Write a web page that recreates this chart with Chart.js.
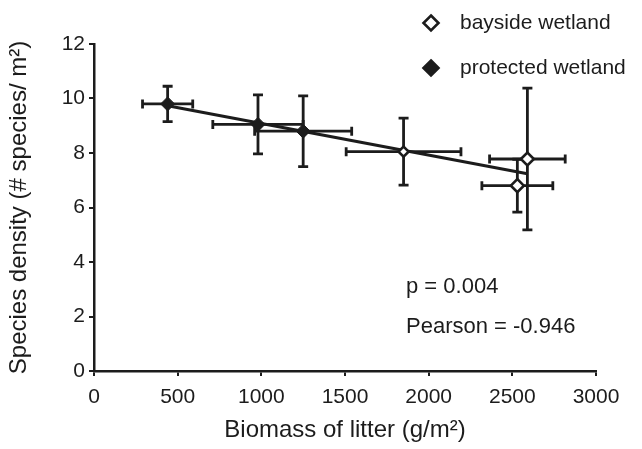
<!DOCTYPE html>
<html>
<head>
<meta charset="utf-8">
<script src="https://cdn.jsdelivr.net/npm/chart.js@4.4.1/dist/chart.umd.min.js"></script>
<style>
  html, body { margin: 0; padding: 0; background: #fff; }
  #wrap { width: 642px; height: 449px; position: relative; }
</style>
</head>
<body>
<div id="wrap"><canvas id="c" width="642" height="449"></canvas></div>
<script>
// ---- data ----
const seriesNames = ['bayside wetland', 'protected wetland'];
const baysideX    = [1850, 2530, 2590];
const baysideY    = [8.05, 6.8, 7.78];
const baysideXErr = [343, 212, 226];
const baysideYErr = [1.23, 0.97, 2.6];
const protectedX    = [440, 980, 1250];
const protectedY    = [9.8, 9.05, 8.8];
const protectedXErr = [150, 270, 290];
const protectedYErr = [0.65, 1.08, 1.3];
const xTicks = [0, 500, 1000, 1500, 2000, 2500, 3000];
const yTicks = [0, 2, 4, 6, 8, 10, 12];
const statsText = ['p = 0.004', 'Pearson = -0.946'];
const xTitle = 'Biomass of litter (g/m\u00B2)';
const yTitle = 'Species density (# species/ m\u00B2)';

// ---- linear regression over all points ----
const allX = protectedX.concat(baysideX);
const allY = protectedY.concat(baysideY);
const mx = allX.reduce((a, b) => a + b, 0) / allX.length;
const my = allY.reduce((a, b) => a + b, 0) / allY.length;
let sxy = 0, sxx = 0;
allX.forEach((x, i) => { sxy += (x - mx) * (allY[i] - my); sxx += (x - mx) * (x - mx); });
const slope = sxy / sxx, icpt = my - slope * mx;
const xMinD = Math.min(...allX), xMaxD = Math.max(...allX);
const trend = [{x: xMinD, y: icpt + slope * xMinD}, {x: xMaxD, y: icpt + slope * xMaxD}];

const toPts = (xs, ys, xe, ye) => xs.map((x, i) => ({x: x, y: ys[i], xe: xe[i], ye: ye[i]}));
const INK = '#1c1c1c';
const FONT = 'Liberation Sans, Arial, Helvetica, sans-serif';

const errorBars = {
  id: 'errorBars',
  beforeDatasetsDraw(chart) {
    const ctx = chart.ctx, xs = chart.scales.x, ys = chart.scales.y;
    ctx.save();
    ctx.strokeStyle = INK;
    ctx.lineWidth = 2.8;
    ctx.lineCap = 'butt';
    chart.data.datasets.forEach(ds => {
      if (!ds.errorBars) return;
      ds.data.forEach(p => {
        const cx = xs.getPixelForValue(p.x), cy = ys.getPixelForValue(p.y);
        const x1 = xs.getPixelForValue(p.x - p.xe), x2 = xs.getPixelForValue(p.x + p.xe);
        const y1 = ys.getPixelForValue(p.y + p.ye), y2 = ys.getPixelForValue(p.y - p.ye);
        ctx.beginPath();
        ctx.moveTo(x1, cy); ctx.lineTo(x2, cy);
        ctx.moveTo(x1, cy - 4.5); ctx.lineTo(x1, cy + 4.5);
        ctx.moveTo(x2, cy - 4.5); ctx.lineTo(x2, cy + 4.5);
        ctx.moveTo(cx, y1); ctx.lineTo(cx, y2);
        ctx.moveTo(cx - 5, y1); ctx.lineTo(cx + 5, y1);
        ctx.moveTo(cx - 5, y2); ctx.lineTo(cx + 5, y2);
        ctx.stroke();
      });
    });
    ctx.restore();
  },
  afterDraw(chart) {
    const ctx = chart.ctx;
    ctx.save();
    // stats text
    ctx.fillStyle = INK;
    ctx.font = '22px ' + FONT;
    ctx.textBaseline = 'middle';
    ctx.textAlign = 'left';
    ctx.fillText(statsText[0], 406, 287);
    ctx.fillText(statsText[1], 406, 327);
    // legend
    const items = [
      {label: seriesNames[0], fill: '#ffffff', y: 23},
      {label: seriesNames[1], fill: INK, y: 68}
    ];
    ctx.font = '21px ' + FONT;
    items.forEach(it => {
      const cx = 431, r = 7.5;
      ctx.beginPath();
      ctx.moveTo(cx, it.y - r); ctx.lineTo(cx + r, it.y); ctx.lineTo(cx, it.y + r); ctx.lineTo(cx - r, it.y); ctx.closePath();
      ctx.fillStyle = it.fill; ctx.fill();
      ctx.lineWidth = 2.6; ctx.strokeStyle = INK; ctx.stroke();
      ctx.fillStyle = INK;
      ctx.fillText(it.label, 460, it.y);
    });
    ctx.restore();
  }
};

new Chart(document.getElementById('c'), {
  type: 'scatter',
  data: {
    datasets: [
      {
        label: 'trend',
        type: 'line',
        data: trend,
        borderColor: INK,
        borderWidth: 3,
        pointRadius: 0,
        fill: false,
        order: 3
      },
      {
        label: seriesNames[0],
        data: toPts(baysideX, baysideY, baysideXErr, baysideYErr),
        errorBars: true,
        pointStyle: 'rectRot',
        pointRadius: [5, 6.5, 6.5],
        pointBorderWidth: 2.6,
        pointBackgroundColor: '#ffffff',
        pointBorderColor: INK,
        order: 1
      },
      {
        label: seriesNames[1],
        data: toPts(protectedX, protectedY, protectedXErr, protectedYErr),
        errorBars: true,
        pointStyle: 'rectRot',
        pointRadius: 7,
        pointBorderWidth: 1,
        pointBackgroundColor: INK,
        pointBorderColor: INK,
        order: 2
      }
    ]
  },
  options: {
    responsive: false,
    animation: false,
    layout: { padding: { left: 2, right: 46, top: 44, bottom: 1 } },
    plugins: { legend: { display: false }, tooltip: { enabled: false } },
    scales: {
      x: {
        type: 'linear',
        min: xTicks[0], max: xTicks[xTicks.length - 1],
        afterBuildTicks: s => { s.ticks = xTicks.map(v => ({value: v})); },
        afterFit: s => { s.height = 77; },
        grid: { display: true, drawOnChartArea: false, drawTicks: true, tickLength: 5, color: INK, lineWidth: 2 },
        border: { display: true, color: INK, width: 2.5 },
        ticks: { color: INK, font: { family: FONT, size: 21 }, padding: 9, maxRotation: 0, callback: v => String(v) },
        title: { display: true, text: xTitle, color: INK, font: { family: FONT, size: 24 }, padding: { top: 0, bottom: 3 } }
      },
      y: {
        type: 'linear',
        min: yTicks[0], max: yTicks[yTicks.length - 1],
        afterBuildTicks: s => { s.ticks = yTicks.map(v => ({value: v})); },
        afterFit: s => { s.width = 92; },
        grid: { display: true, drawOnChartArea: false, drawTicks: true, tickLength: 5, color: INK, lineWidth: 2 },
        border: { display: true, color: INK, width: 2.5 },
        ticks: { color: INK, font: { family: FONT, size: 21 }, padding: 4, callback: v => String(v) },
        title: { display: true, text: yTitle, color: INK, font: { family: FONT, size: 24 }, padding: { top: 3, bottom: 0 } }
      }
    }
  },
  plugins: [errorBars]
});
</script>
</body>
</html>
